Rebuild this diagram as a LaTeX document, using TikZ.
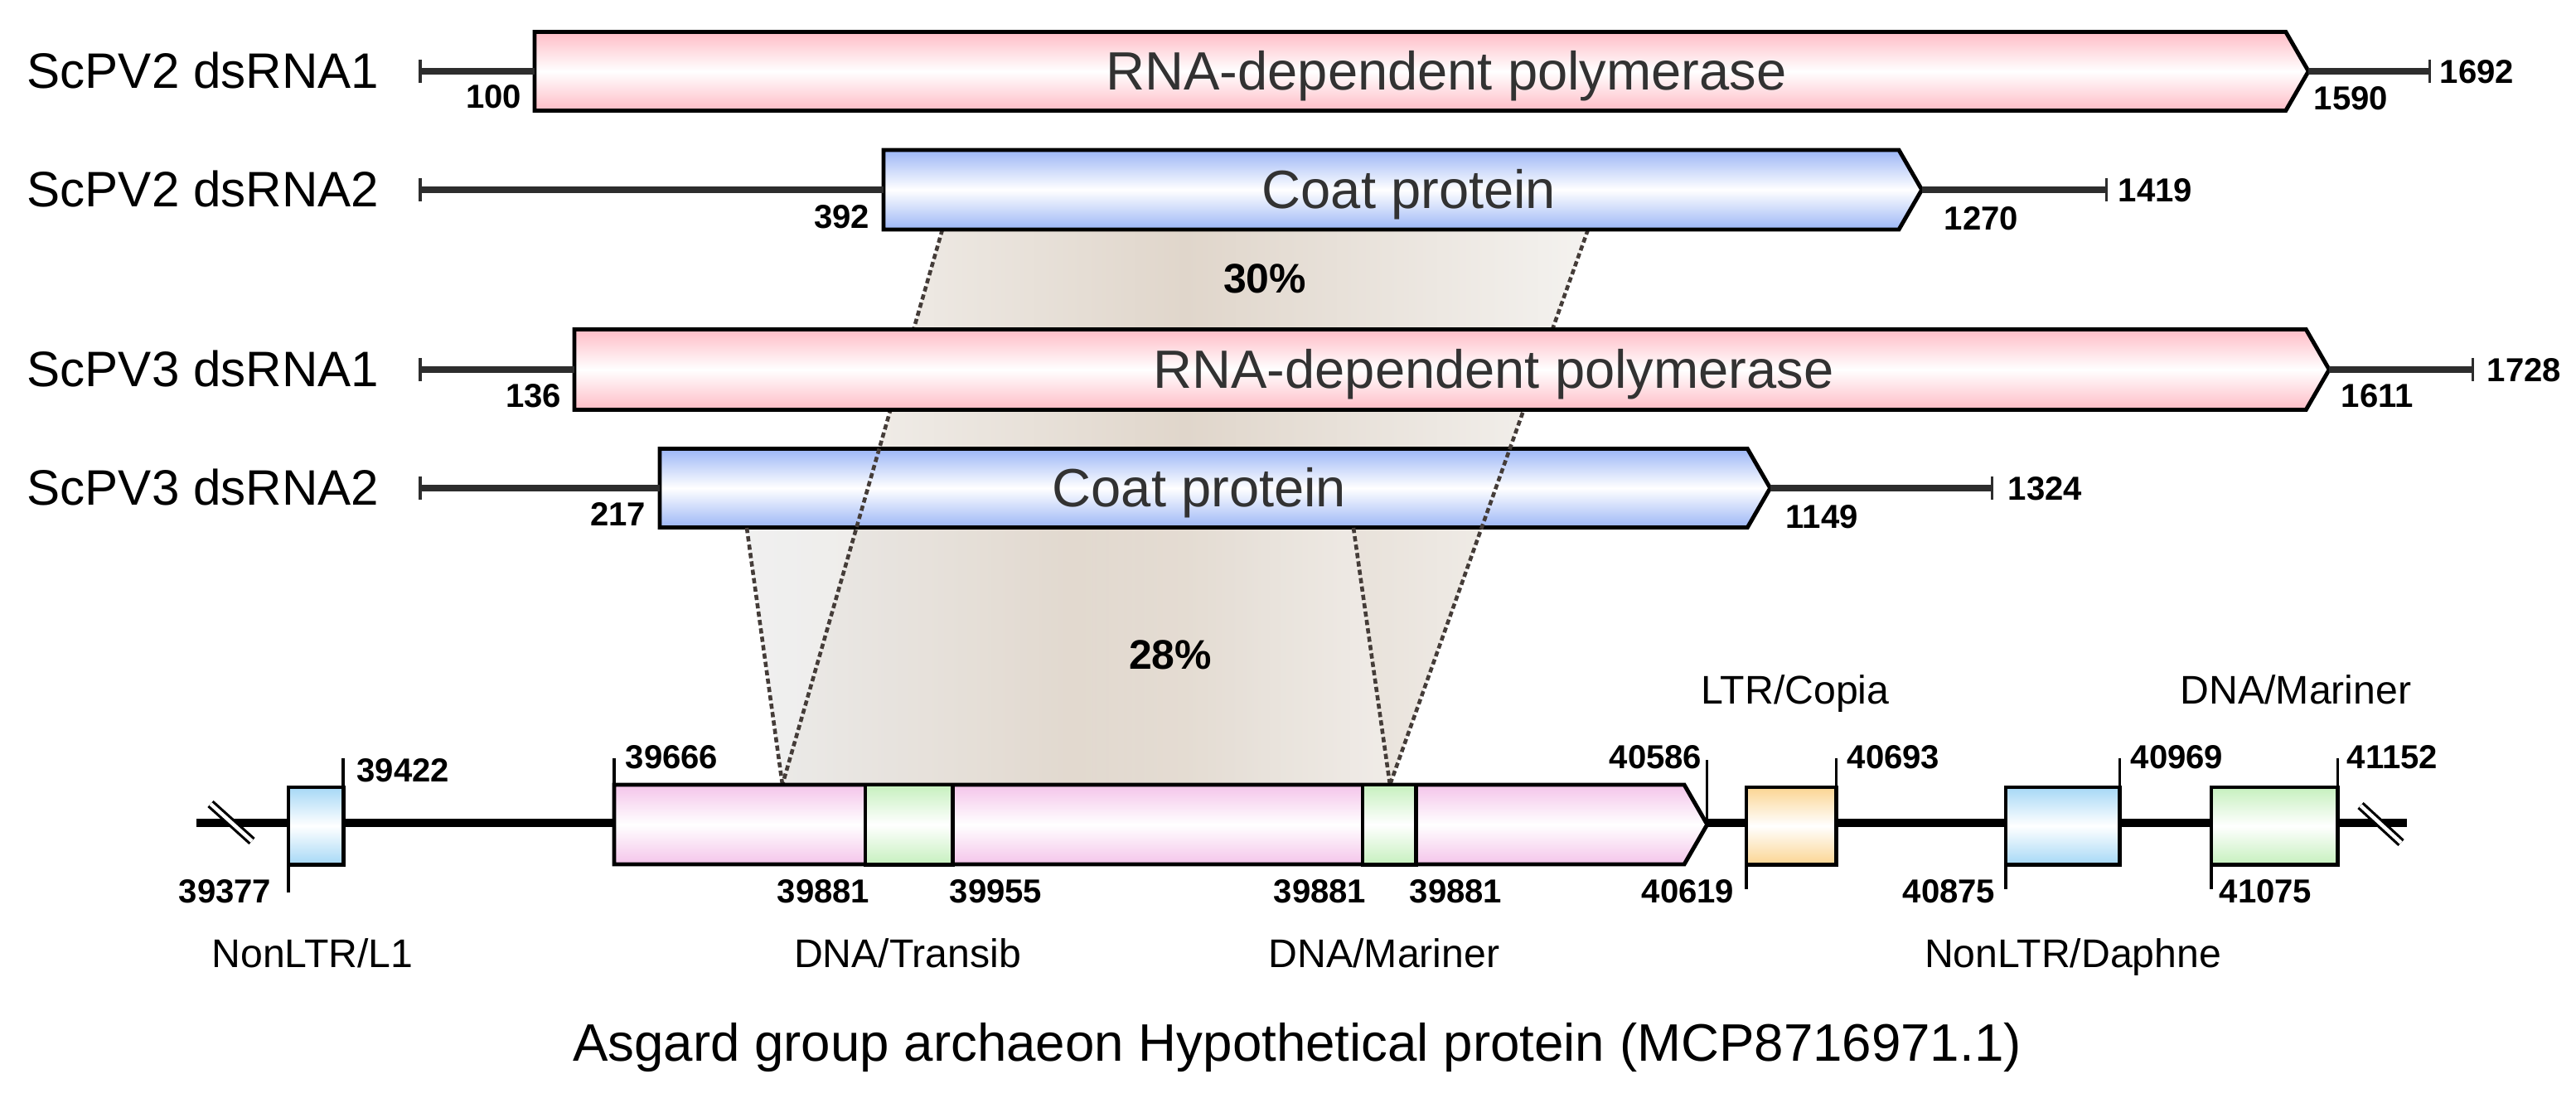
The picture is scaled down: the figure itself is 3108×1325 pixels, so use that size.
\documentclass[tikz,border=0pt]{standalone}
\usepackage{fontspec}
\setmainfont{Liberation Sans}
\usetikzlibrary{shapes.symbols,arrows.meta,positioning}
\definecolor{rdrp}{RGB}{255,188,198}
\definecolor{coat}{RGB}{156,182,246}
\definecolor{asg}{RGB}{244,196,234}
\definecolor{tegreen}{RGB}{198,240,190}
\definecolor{teorange}{RGB}{251,213,146}
\definecolor{teblue}{RGB}{166,216,246}
\definecolor{rnaline}{RGB}{45,45,45}
\definecolor{txtgray}{RGB}{50,50,50}
\definecolor{alnline}{RGB}{68,60,56}
\definecolor{shadeA}{RGB}{244,242,239}
\definecolor{shadeB}{RGB}{224,214,203}
\definecolor{shadeC}{RGB}{230,230,230}
\begin{document}
\begin{tikzpicture}[x=0.01cm, y=-0.01cm,
    cds/.style = {draw, line width=1.4pt, inner sep=0pt, outer sep=0pt, signal, signal to=east, signal from=nowhere, signal pointer angle=120, anchor=west, top color=#1, bottom color=#1, middle color=white},
    te/.style = {draw, line width=1.4pt, inner sep=0pt, outer sep=0pt, rectangle, anchor=north west, top color=#1, bottom color=#1, middle color=white},
    rna/.style = {draw=rnaline, line width=2.3pt},
    dna/.style = {draw=black, line width=2.8pt},
    tick/.style = {line width=0.9pt},
    brk/.style = {line width=0.9pt, double=white, double distance=0.045cm},
    aln/.style = {draw=alnline, line width=1.3pt, dash pattern=on 1.8pt off 1.1pt},
    rowlab/.style = {font=\fontsize{17.1}{20}\selectfont, anchor=base west, inner sep=0pt},
    boxtxt/.style = {font=\fontsize{18.5}{20}\selectfont, text=txtgray, anchor=base, inner sep=0pt},
    num/.style = {font=\fontsize{11.4}{13}\selectfont\bfseries, inner sep=0pt},
    telab/.style = {font=\fontsize{13.7}{15}\selectfont, anchor=base, inner sep=0pt},
    pct/.style = {font=\fontsize{14.2}{16}\selectfont\bfseries, anchor=base, inner sep=0pt}
    ]
    \useasboundingbox (0,0) rectangle (3108,1325);

    \coordinate (C1L) at (1137,277);
    \coordinate (C1R) at (1916,277);
    \coordinate (C2L) at (901,637);
    \coordinate (C2R) at (1633,637);
    \coordinate (HL) at (944,947);
    \coordinate (HR) at (1677,947);

    \shade[left color=shadeA, right color=shadeA, middle color=shadeB] (C1L) -- (C1R) -- (HR) -- (HL) -- cycle;
    \shade[fill opacity=0.6, left color=shadeC, right color=shadeA, middle color=shadeB] (C2L) -- (C2R) -- (HR) -- (HL) -- cycle;

    \node[cds=coat, minimum width=13.39cm, minimum height=0.95cm] (C2) at (796,589) {};
    \draw[aln] (C1L) -- (HL);
    \draw[aln] (C1R) -- (HR);
    \draw[aln] (C2L) -- (HL);
    \draw[aln] (C2R) -- (HR);

    \node[cds=rdrp, minimum width=21.39cm, minimum height=0.95cm] (R1) at (645,86) {};
    \node[cds=coat, minimum width=12.52cm, minimum height=0.96cm] (C1) at (1066,229) {};
    \node[cds=rdrp, minimum width=21.16cm, minimum height=0.97cm] (R2) at (693,446) {};

    \coordinate (S1) at (505,86);
    \coordinate (S2) at (505,229);
    \coordinate (S3) at (505,446);
    \coordinate (S4) at (505,589);
    \coordinate (E1) at (2933,86);
    \coordinate (E2) at (2543,229);
    \coordinate (E3) at (2985,446);
    \coordinate (E4) at (2405,589);

    \draw[rna, {Bar[width=0.28cm, line width=1pt]}-] (S1) -- (R1.west);
    \draw[rna, -{Bar[width=0.28cm, line width=1pt]}] (R1.east) -- (E1);
    \draw[rna, {Bar[width=0.28cm, line width=1pt]}-] (S2) -- (C1.west);
    \draw[rna, -{Bar[width=0.28cm, line width=1pt]}] (C1.east) -- (E2);
    \draw[rna, {Bar[width=0.28cm, line width=1pt]}-] (S3) -- (R2.west);
    \draw[rna, -{Bar[width=0.28cm, line width=1pt]}] (R2.east) -- (E3);
    \draw[rna, {Bar[width=0.28cm, line width=1pt]}-] (S4) -- (C2.west);
    \draw[rna, -{Bar[width=0.28cm, line width=1pt]}] (C2.east) -- (E4);

    \node[rowlab] (n1) at (32,107) {ScPV2 dsRNA1};
    \node[rowlab] (n2) at (32,250) {ScPV2 dsRNA2};
    \node[rowlab] (n3) at (32,467) {ScPV3 dsRNA1};
    \node[rowlab] (n4) at (32,610) {ScPV3 dsRNA2};

    \node[boxtxt] (t1) at (1745,109) {RNA-dependent polymerase};
    \node[boxtxt] (t2) at (1700,252) {Coat protein};
    \node[boxtxt] (t3) at (1802,469) {RNA-dependent polymerase};
    \node[boxtxt] (t4) at (1447,612) {Coat protein};

    \node[num, anchor=base east] (p100) at (630,131) {100};
    \node[num, anchor=base west] (p1590) at (2791,133) {1590};
    \node[num, anchor=base west] (p1692) at (2943,101) {1692};
    \node[num, anchor=base east] (p392) at (1050,276) {392};
    \node[num, anchor=base west] (p1270) at (2345,278) {1270};
    \node[num, anchor=base west] (p1419) at (2555,244) {1419};
    \node[num, anchor=base east] (p136) at (678,492) {136};
    \node[num, anchor=base west] (p1611) at (2824,492) {1611};
    \node[num, anchor=base west] (p1728) at (3000,461) {1728};
    \node[num, anchor=base east] (p217) at (780,635) {217};
    \node[num, anchor=base west] (p1149) at (2154,638) {1149};
    \node[num, anchor=base west] (p1324) at (2422,604) {1324};

    \node[pct] (id30) at (1526,354) {30\%};
    \node[pct] (id28) at (1412,808) {28\%};

    \coordinate (G0) at (237,993);
    \coordinate (G1) at (2904,993);
    \draw[dna] (G0) -- (G1);
    \draw[brk] (254,970) -- (304,1015);
    \draw[brk] (2848,972) -- (2897,1017);

    \node[te=teblue, minimum width=0.66cm, minimum height=0.93cm] (L1) at (348,950) {};
    \node[cds=asg, minimum width=13.18cm, minimum height=0.96cm] (H) at (741,995) {};
    \node[te=tegreen, minimum width=1.05cm, minimum height=0.96cm] (T1) at (1044,947) {};
    \node[te=tegreen, minimum width=0.64cm, minimum height=0.96cm] (M1) at (1644,947) {};
    \node[te=teorange, minimum width=1.08cm, minimum height=0.93cm] (CP) at (2107,950) {};
    \node[te=teblue, minimum width=1.37cm, minimum height=0.93cm] (DP) at (2420,950) {};
    \node[te=tegreen, minimum width=1.52cm, minimum height=0.93cm] (M2) at (2668,950) {};

    \draw[tick] (L1.south west) -- ++(0,34);
    \draw[tick] (L1.north east) -- ++(0,-35);
    \draw[tick] (H.north west) -- ++(0,-32);
    \draw[tick] (H.east) -- ++(0,-78);
    \draw[tick] (CP.south west) -- ++(0,30);
    \draw[tick] (CP.north east) -- ++(0,-35);
    \draw[tick] (DP.south west) -- ++(0,30);
    \draw[tick] (DP.north east) -- ++(0,-35);
    \draw[tick] (M2.south west) -- ++(0,30);
    \draw[tick] (M2.north east) -- ++(0,-35);

    \node[num, anchor=base east] (q39377) at (328,1090) {39377};
    \node[num, anchor=base west] (q39422) at (430,943) {39422};
    \node[num, anchor=base west] (q39666) at (754,928) {39666};
    \node[num, anchor=base east] (q39881a) at (1050,1090) {39881};
    \node[num, anchor=base west] (q39955) at (1145,1090) {39955};
    \node[num, anchor=base east] (q39881b) at (1649,1090) {39881};
    \node[num, anchor=base west] (q39881c) at (1700,1090) {39881};
    \node[num, anchor=base east] (q40586) at (2054,928) {40586};
    \node[num, anchor=base east] (q40619) at (2093,1090) {40619};
    \node[num, anchor=base west] (q40693) at (2228,928) {40693};
    \node[num, anchor=base east] (q40875) at (2408,1090) {40875};
    \node[num, anchor=base west] (q40969) at (2570,928) {40969};
    \node[num, anchor=base west] (q41075) at (2677,1090) {41075};
    \node[num, anchor=base west] (q41152) at (2831,928) {41152};

    \node[telab] (l1) at (377,1167) {NonLTR/L1};
    \node[telab] (tr) at (1095,1167) {DNA/Transib};
    \node[telab] (ma) at (1670,1167) {DNA/Mariner};
    \node[telab] (da) at (2501,1167) {NonLTR/Daphne};
    \node[telab] (co) at (2166,850) {LTR/Copia};
    \node[telab] (mb) at (2770,850) {DNA/Mariner};

    \node[font=\fontsize{18.1}{20}\selectfont, anchor=base, inner sep=0pt] (title) at (1565,1280) {Asgard group archaeon Hypothetical protein (MCP8716971.1)};
\end{tikzpicture}
\end{document}
